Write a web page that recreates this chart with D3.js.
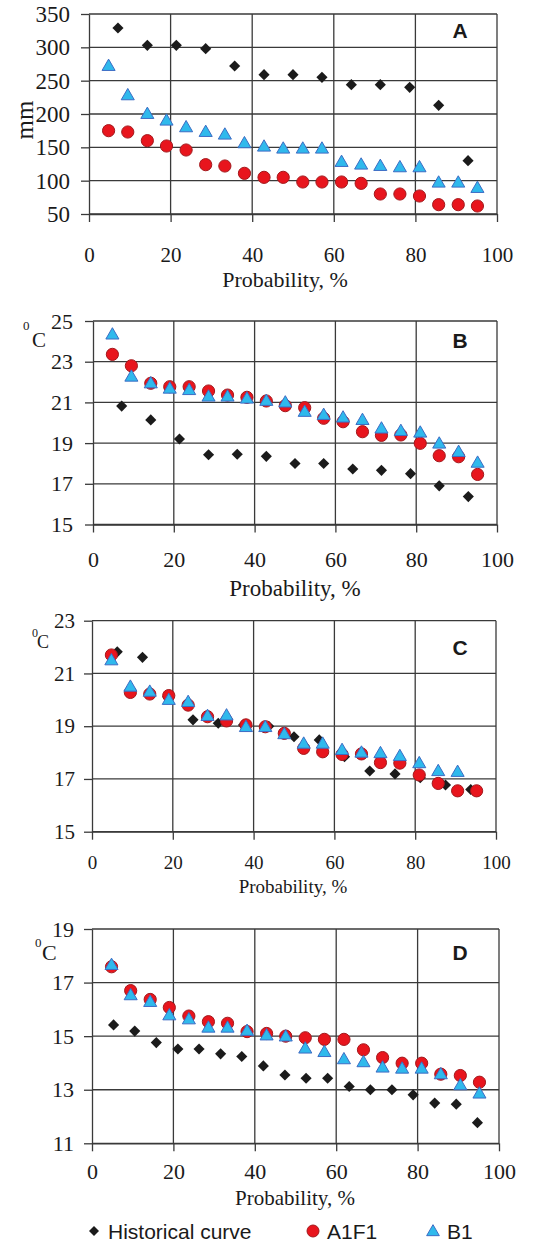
<!DOCTYPE html>
<html>
<head>
<meta charset="utf-8">
<script src="https://cdn.jsdelivr.net/npm/d3@7"></script>
<style>
  body { margin: 0; background: #fff; }
  svg { display: block; }
</style>
</head>
<body>
<div id="chart"></div>
<script>
// probabilities (x positions) of the points
const probHist = [7.1, 14.3, 21.4, 28.6, 35.7, 42.9, 50.0, 57.1, 64.3, 71.4, 78.6, 85.7, 92.9];
const probHistC = [6.25, 12.5, 18.75, 25, 31.25, 37.5, 43.75, 50, 56.25, 62.5, 68.75, 75, 81.25, 87.5, 93.75];
const probHistD = [5.3, 10.5, 15.8, 21.1, 26.3, 31.6, 36.8, 42.1, 47.4, 52.6, 57.9, 63.2, 68.4, 73.7, 78.9, 84.2, 89.5, 94.7];
const probScen = [4.8, 9.5, 14.3, 19.0, 23.8, 28.6, 33.3, 38.1, 42.9, 47.6, 52.4, 57.1, 61.9, 66.7, 71.4, 76.2, 81.0, 85.7, 90.5, 95.2];

// A - precipitation, mm
const histA = [329, 303, 303, 298, 272, 259, 259, 255, 244, 244, 240, 213, 130];
const a1f1A = [175, 173, 160, 152, 146, 124, 122, 111, 105, 105, 98, 98, 98, 96, 80, 80, 77, 64, 64, 62];
const b1A = [271, 227, 199, 189, 179, 172, 168, 155, 150, 147, 147, 147, 127, 123, 121, 119, 119, 96, 96, 88];

// B
const histB = [20.82, 20.14, 19.2, 18.43, 18.45, 18.35, 18.0, 18.0, 17.73, 17.66, 17.5, 16.9, 16.37];
const a1f1B = [23.36, 22.8, 21.94, 21.77, 21.77, 21.56, 21.36, 21.25, 21.07, 20.84, 20.74, 20.22, 20.05, 19.56, 19.38, 19.4, 18.99, 18.38, 18.33, 17.46];
const b1B = [24.3, 22.23, 21.9, 21.64, 21.57, 21.25, 21.25, 21.15, 21.04, 20.96, 20.5, 20.35, 20.22, 20.1, 19.68, 19.56, 19.48, 18.94, 18.53, 18.0];

// C
const histC = [21.82, 21.61, 20.12, 19.24, 19.11, 19.05, 19.0, 18.6, 18.48, 17.84, 17.3, 17.19, 17.05, 16.77, 16.6];
const a1f1C = [21.7, 20.28, 20.22, 20.16, 19.8, 19.36, 19.2, 19.05, 18.98, 18.73, 18.16, 18.03, 17.93, 17.95, 17.62, 17.6, 17.15, 16.83, 16.55, 16.55];
const b1C = [21.47, 20.47, 20.28, 19.97, 19.89, 19.36, 19.38, 18.94, 18.94, 18.67, 18.31, 18.31, 18.07, 17.97, 17.95, 17.84, 17.57, 17.27, 17.24];

// D
const histD = [15.42, 15.19, 14.76, 14.52, 14.52, 14.34, 14.24, 13.89, 13.55, 13.43, 13.43, 13.12, 13.0, 13.0, 12.81, 12.5, 12.46, 11.77];
const a1f1D = [17.59, 16.7, 16.37, 16.07, 15.75, 15.54, 15.48, 15.17, 15.1, 15.0, 14.94, 14.88, 14.88, 14.49, 14.2, 13.99, 13.99, 13.58, 13.53, 13.28];
const b1D = [17.63, 16.5, 16.25, 15.75, 15.6, 15.29, 15.29, 15.17, 15.0, 14.96, 14.51, 14.38, 14.11, 14.0, 13.8, 13.76, 13.76, 13.55, 13.14, 12.83];

// tick labels
const xTicks = [0, 20, 40, 60, 80, 100];
const yTicksA = [50, 100, 150, 200, 250, 300, 350];
const yTicksB = [15, 17, 19, 21, 23, 25];
const yTicksC = [15, 17, 19, 21, 23];
const yTicksD = [11, 13, 15, 17, 19];
const seriesNames = ["Historical curve", "A1F1", "B1"];

const serif = "Liberation Serif, Times New Roman, serif";
const sans = "Liberation Sans, Arial, sans-serif";
const gridColor = "#3a3a3a";
const redFill = "#e8151d", redStroke = "#a3181c";
const blueFill = "#2fb9ec", blueStroke = "#3d6cc4";
const diamondColor = "#1b1b1b";

const width = 550, height = 1246;
const svg = d3.select("#chart").append("svg")
    .attr("width", width)
    .attr("height", height);

const diamond = d3.symbol(d3.symbolSquare, 62)();
const triangle = d3.symbol(d3.symbolTriangle, 74)();

const panels = [
    { label: "A", left: 89, right: 497, top: 14, bottom: 214, domain: [50, 350], yTicks: yTicksA,
      hist: [probHist, histA], a1f1: a1f1A, b1: b1A,
      yFont: 23, yPad: 11, xFont: 21, xPad: 25, titleFont: 22, titleX: 285, titleY: 287,
      letterY: 38, unit: "mm" },
    { label: "B", left: 93, right: 497, top: 321, bottom: 524.5, domain: [15, 25], yTicks: yTicksB,
      hist: [probHist, histB], a1f1: a1f1B, b1: b1B,
      yFont: 22, yPad: 12, xFont: 22, xPad: 19, titleFont: 23, titleX: 295, titleY: 596,
      letterY: 348, unit: { x0: 23, y0: 330, f0: 13, xc: 32, yc: 347, fc: 21 } },
    { label: "C", left: 92, right: 496, top: 620.7, bottom: 831.7, domain: [15, 23], yTicks: yTicksC,
      hist: [probHistC, histC], a1f1: a1f1C, b1: b1C,
      yFont: 21, yPad: 9, xFont: 19, xPad: 16, titleFont: 19, titleX: 293, titleY: 893,
      letterY: 655, unit: { x0: 32, y0: 637, f0: 12, xc: 37, yc: 648, fc: 18 } },
    { label: "D", left: 92, right: 499, top: 929, bottom: 1143.3, domain: [11, 19], yTicks: yTicksD,
      hist: [probHistD, histD], a1f1: a1f1D, b1: b1D,
      yFont: 22, yPad: 10, xFont: 22, xPad: 12, titleFont: 21, titleX: 295, titleY: 1205,
      letterY: 960, unit: { x0: 35, y0: 947, f0: 13, xc: 42, yc: 960, fc: 22 } }
];

panels.forEach(function (p) {
    const x = d3.scaleLinear().domain([0, 100]).range([p.left, p.right]);
    const y = d3.scaleLinear().domain(p.domain).range([p.bottom, p.top]);
    const g = svg.append("g");

    // grid
    g.append("g")
        .selectAll("line")
        .data(p.yTicks)
        .join("line")
        .attr("x1", p.left).attr("x2", p.right)
        .attr("y1", d => y(d)).attr("y2", d => y(d))
        .attr("stroke", gridColor).attr("stroke-width", 1.3);
    g.append("g")
        .selectAll("line")
        .data(xTicks.slice(1))
        .join("line")
        .attr("x1", d => x(d)).attr("x2", d => x(d))
        .attr("y1", p.top).attr("y2", p.bottom)
        .attr("stroke", gridColor).attr("stroke-width", 1.3);

    // axes
    const yAxis = g.append("g")
        .attr("transform", `translate(${p.left},0)`)
        .call(d3.axisLeft(y).tickValues(p.yTicks).tickSize(8).tickSizeOuter(0).tickPadding(p.yPad));
    const xAxis = g.append("g")
        .attr("transform", `translate(0,${p.bottom})`)
        .call(d3.axisBottom(x).tickValues(xTicks).tickSize(8).tickSizeOuter(0).tickPadding(p.xPad));
    [yAxis, xAxis].forEach(function (ax) {
        ax.attr("font-family", serif);
        ax.select(".domain").attr("stroke", gridColor).attr("stroke-width", 1.3);
        ax.selectAll(".tick line").attr("stroke", gridColor).attr("stroke-width", 1.3);
        ax.selectAll("text").attr("fill", "#1a1a1a").attr("font-family", serif);
    });
    yAxis.attr("font-size", p.yFont);
    xAxis.attr("font-size", p.xFont);

    g.append("text")
        .attr("x", p.titleX).attr("y", p.titleY)
        .attr("text-anchor", "middle")
        .attr("font-family", serif).attr("font-size", p.titleFont)
        .attr("fill", "#1a1a1a")
        .text("Probability, %");

    // y unit
    if (p.unit === "mm") {
        g.append("text")
            .attr("transform", "translate(33,120) rotate(-90)")
            .attr("text-anchor", "middle")
            .attr("font-family", serif).attr("font-size", 25)
            .attr("fill", "#1a1a1a")
            .text("mm");
    } else {
        g.append("text").attr("x", p.unit.x0).attr("y", p.unit.y0)
            .attr("font-family", serif).attr("font-size", p.unit.f0)
            .attr("fill", "#1a1a1a").text("0");
        g.append("text").attr("x", p.unit.xc).attr("y", p.unit.yc)
            .attr("font-family", serif).attr("font-size", p.unit.fc)
            .attr("fill", "#1a1a1a").text("C");
    }

    // panel letter
    g.append("text")
        .attr("x", 460).attr("y", p.letterY)
        .attr("text-anchor", "middle")
        .attr("font-family", sans).attr("font-weight", "bold").attr("font-size", 21)
        .attr("fill", "#1a1a1a")
        .text(p.label);

    // historical curve
    g.append("g")
        .selectAll("path")
        .data(p.hist[1])
        .join("path")
        .attr("d", diamond)
        .attr("transform", (d, i) => `translate(${x(p.hist[0][i])},${y(d)}) rotate(45)`)
        .attr("fill", diamondColor);

    // A1F1
    g.append("g")
        .selectAll("circle")
        .data(p.a1f1)
        .join("circle")
        .attr("cx", (d, i) => x(probScen[i]))
        .attr("cy", d => y(d))
        .attr("r", 6.1)
        .attr("fill", redFill)
        .attr("stroke", redStroke)
        .attr("stroke-width", 1);

    // B1
    g.append("g")
        .selectAll("path")
        .data(p.b1)
        .join("path")
        .attr("d", triangle)
        .attr("transform", (d, i) => `translate(${x(probScen[i])},${y(d)})`)
        .attr("fill", blueFill)
        .attr("stroke", blueStroke)
        .attr("stroke-width", 1);
});

// legend
const legend = svg.append("g").attr("transform", "translate(0,1231)");
const legendX = [94, 313, 433];
seriesNames.forEach(function (name, i) {
    const lx = legendX[i];
    if (i === 0) {
        legend.append("path").attr("d", d3.symbol(d3.symbolSquare, 50)())
            .attr("transform", `translate(${lx},0) rotate(45)`)
            .attr("fill", diamondColor);
    } else if (i === 1) {
        legend.append("circle").attr("cx", lx).attr("cy", 0).attr("r", 6)
            .attr("fill", redFill).attr("stroke", redStroke);
    } else {
        legend.append("path").attr("d", d3.symbol(d3.symbolTriangle, 70)())
            .attr("transform", `translate(${lx},1)`)
            .attr("fill", blueFill).attr("stroke", blueStroke);
    }
    legend.append("text")
        .attr("x", lx + 14).attr("y", 7.5)
        .attr("font-family", sans).attr("font-size", 21)
        .attr("fill", "#1a1a1a")
        .text(name);
});
</script>
</body>
</html>
